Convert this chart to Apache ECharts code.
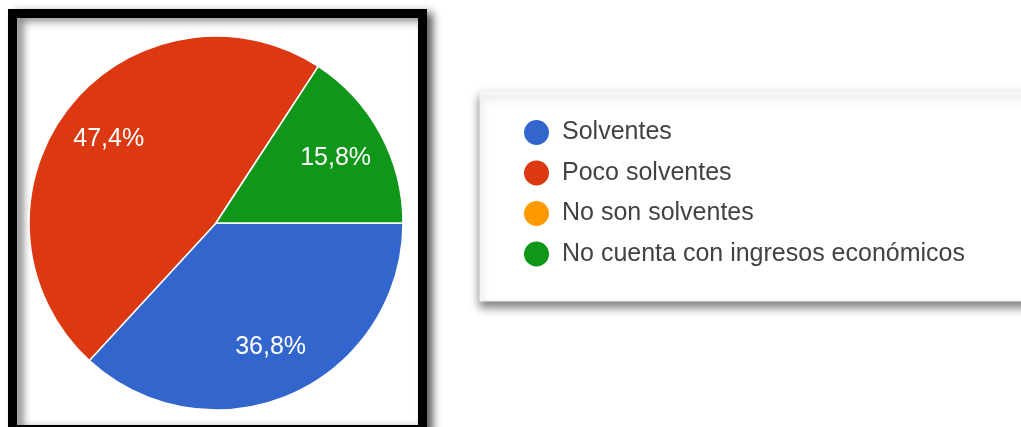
<!DOCTYPE html>
<html>
<head>
<meta charset="utf-8">
<script src="https://cdn.jsdelivr.net/npm/echarts@6/dist/echarts.min.js"></script>
<style>
html,body{margin:0;padding:0;background:#fff;}
#chart{width:1021px;height:427px;}
</style>
</head>
<body>
<div id="chart"></div>
<script>
const categories = ['Solventes', 'Poco solventes', 'No son solventes', 'No cuenta con ingresos económicos'];
const counts = [7, 9, 0, 3];
const colors = ['#3366cc', '#dc3912', '#ff9900', '#109618'];

const chart = echarts.init(document.getElementById('chart'), null, {renderer: 'canvas'});
const data = categories.map((c, i) => ({name: c, value: counts[i], itemStyle: {color: colors[i]}}));

const fontFamily = '"Liberation Sans", Arial, sans-serif';

chart.setOption({
  backgroundColor: '#ffffff',
  animation: false,
  graphic: [
    {
      type: 'rect', z: 0,
      shape: {x: 12.5, y: 13.5, width: 410, height: 416},
      style: {fill: '#ffffff', stroke: '#000000', lineWidth: 9,
        shadowBlur: 8, shadowOffsetX: 6, shadowOffsetY: 3, shadowColor: 'rgba(0,0,0,0.5)'}
    },
    {
      type: 'rect', z: 0,
      shape: {x: 480, y: 91, width: 570, height: 210},
      style: {fill: '#ffffff', stroke: '#f2f2f2', lineWidth: 1,
        shadowBlur: 9, shadowOffsetX: 0, shadowOffsetY: 6, shadowColor: 'rgba(0,0,0,0.5)'}
    }
  ],
  legend: {
    orient: 'vertical',
    left: 524,
    top: 120,
    padding: 0,
    icon: 'circle',
    itemWidth: 25,
    itemHeight: 25,
    itemGap: 15.5,
    itemStyle: {borderWidth: 0},
    data: categories,
    selectedMode: false,
    textStyle: {fontSize: 25, color: '#424242', fontFamily: fontFamily, padding: [0, 0, 0, 8]}
  },
  series: [
    {
      type: 'pie',
      name: 'main',
      center: [216, 223],
      radius: [0, 187],
      startAngle: 0,
      clockwise: true,
      data: data,
      label: {show: false},
      labelLine: {show: false},
      itemStyle: {borderColor: '#ffffff', borderWidth: 1.5},
      emphasis: {disabled: true},
      silent: true,
      z: 2
    },
    {
      type: 'pie',
      name: 'labels',
      center: [216, 223],
      radius: [114, 152],
      startAngle: 0,
      clockwise: true,
      percentPrecision: 1,
      data: data.map(d => ({name: d.name, value: d.value, itemStyle: {color: 'rgba(0,0,0,0)'}})),
      itemStyle: {borderWidth: 0},
      label: {
        show: true,
        position: 'inside',
        color: '#ffffff',
        fontSize: 25,
        fontFamily: fontFamily,
        formatter: p => p.value === 0 ? '' : p.percent.toFixed(1).replace('.', ',') + '%'
      },
      labelLine: {show: false},
      emphasis: {disabled: true},
      silent: true,
      z: 3
    }
  ]
});
</script>
</body>
</html>
